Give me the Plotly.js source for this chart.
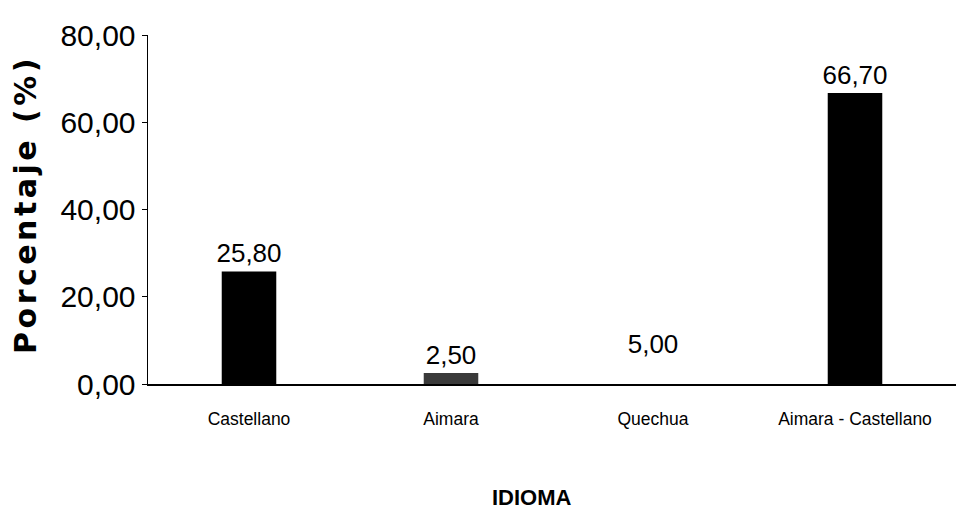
<!DOCTYPE html>
<html>
<head>
<meta charset="utf-8">
<script src="https://cdn.plot.ly/plotly-3.0.1.min.js"></script>
<style>html,body{margin:0;padding:0;background:#fff;}</style>
</head>
<body>
<div id="chart" style="width:957px;height:511px;"></div>
<script>
const categories = ["Castellano", "Aimara", "Quechua", "Aimara - Castellano"];
const percentages = [25.80, 2.50, 5.00, 66.70];
const barColors = ["#000000", "#3a3a3a", "#ffffff", "#000000"];
const yTicks = [0, 20, 40, 60, 80];

const sans = "Liberation Sans, Arial, sans-serif";

const trace = {
  type: "bar",
  x: categories,
  y: percentages,
  width: 0.27,
  marker: { color: barColors, line: { width: 0 } },
  texttemplate: "%{y:.2f}",
  textposition: "outside",
  constraintext: "none",
  textfont: { family: sans, size: 26, color: "#000" },
  cliponaxis: false,
  hoverinfo: "skip"
};

const layout = {
  width: 957,
  height: 511,
  margin: { l: 148, r: 1, t: 35, b: 127 },
  paper_bgcolor: "#fff",
  plot_bgcolor: "#fff",
  separators: ",.",
  showlegend: false,
  xaxis: {
    type: "category",
    showline: true,
    linecolor: "#000",
    linewidth: 2,
    showgrid: false,
    zeroline: false,
    ticks: "",
    ticklabelstandoff: 18,
    tickfont: { family: sans, size: 17.5, color: "#000" }
  },
  yaxis: {
    range: [0, 80],
    tickvals: yTicks,
    tickformat: ".2f",
    showline: true,
    linecolor: "#000",
    linewidth: 1.5,
    ticks: "outside",
    ticklen: 5,
    tickcolor: "#000",
    showgrid: false,
    zeroline: false,
    tickfont: { family: sans, size: 30, color: "#000" }
  },
  annotations: [
    {
      text: "Porcentaje (%)",
      xref: "paper", yref: "paper",
      x: -0.152, y: 0.515,
      xanchor: "center", yanchor: "middle",
      textangle: -90,
      showarrow: false,
      font: { family: "DejaVu Sans, sans-serif", size: 30, color: "#000", weight: "bold" }
    },
    {
      text: "IDIOMA",
      xref: "paper", yref: "paper",
      x: 0.475, y: -0.324,
      xanchor: "center", yanchor: "middle",
      showarrow: false,
      font: { family: sans, size: 22, color: "#000", weight: "bold" }
    }
  ]
};

Plotly.newPlot("chart", [trace], layout, { staticPlot: true, displayModeBar: false }).then(function () {
  const t = document.querySelectorAll(".annotation-text")[0];
  if (t) { t.style.letterSpacing = "3.5px"; }
});
</script>
</body>
</html>
